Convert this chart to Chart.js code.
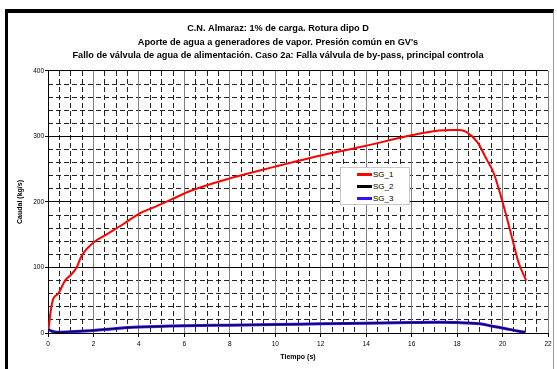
<!DOCTYPE html>
<html>
<head>
<meta charset="utf-8">
<script src="https://cdn.jsdelivr.net/npm/chart.js@4.4.1/dist/chart.umd.min.js"></script>
<style>
  body { margin:0; background:#fff; }
  #wrap { position:relative; width:557px; height:369px; overflow:hidden; }
  #frame { position:absolute; left:5px; top:9px; width:545px; height:400px;
           border-top:4px solid #000; border-left:3px solid #000; border-right:1px solid #999; }
  #legend { position:absolute; left:340px; top:167px; width:68px; height:36px;
            background:#fff; border:1px solid #c8c8c8; font:8px "Liberation Sans", Arial, sans-serif; }
  #legend div { position:absolute; left:16px; height:10px; line-height:10px; }
  #legend span { display:inline-block; width:15px; height:3px; vertical-align:middle; margin-right:1px; }
</style>
</head>
<body>
<div id="wrap">
  <canvas id="chart" width="557" height="369"></canvas>
  <div id="frame"></div>
  <div id="legend"></div>
</div>
<script>

// ------------------------------
// DATA
// ------------------------------

const titleLines = [
    "C.N. Almaraz: 1% de carga. Rotura dipo D",
    "Aporte de agua a generadores de vapor. Presión común en GV's",
    "Fallo de válvula de agua de alimentación. Caso 2a: Falla válvula de by-pass, principal controla"
]

const seriesNames = ["SG_1", "SG_2", "SG_3"]
const seriesColors = ["#ff0000", "#000000", "#3311ff"]

// SG_1 (red)
const tSG1 = [0.02, 0.1, 0.23, 0.45, 0.75, 1.04, 1.26, 1.48, 2.0, 2.6, 3.3, 4.0, 4.8, 5.5, 6.2,
              8, 10, 12, 13.9, 16, 17.2, 17.8, 18.1, 18.4, 18.9, 19.3, 19.6, 20.0, 20.45, 20.7, 21.04]
const SG1  = [3, 29, 52, 60, 80, 90, 100, 118, 138, 151, 166, 182, 194, 205, 216,
              236, 254, 271, 285, 302, 309, 310, 310, 307, 291, 265, 245, 200, 141, 108, 80]

// SG_2 (black) and SG_3 (blue) lie on top of each other
const tSG3 = [0, 0.4, 1, 2, 3, 4, 6, 8, 10, 12, 14, 16, 17.2, 18, 19, 19.6, 20.1, 20.5, 21]
const SG2  = [5, 1, 2, 4, 7, 9, 11, 12, 13, 14, 15, 16, 16.4, 16, 14, 10, 7, 4, 1]
const SG3  = [5, 1, 2, 4, 7, 9, 11, 12, 13, 14, 15, 16, 16.4, 16, 14, 10, 7, 4, 1]

const xTitle = "Tiempo (s)"
const yTitle = "Caudal (kg/s)"

// ------------------------------
// CHART
// ------------------------------

const FONT = "'Liberation Sans', Arial, sans-serif"

function pts(xs, ys){
    return xs.map((x, i) => ({x:x, y:ys[i]}))
}

const datasets = [
    {label:seriesNames[1], data:pts(tSG3, SG2), borderColor:seriesColors[1], borderWidth:1},
    {label:seriesNames[2], data:pts(tSG3, SG3), borderColor:seriesColors[2], borderWidth:3},
    {label:seriesNames[0], data:pts(tSG1, SG1), borderColor:seriesColors[0], borderWidth:2}
].map(d => Object.assign(d, {pointRadius:0, fill:false, cubicInterpolationMode:"monotone"}))

const minorGrid = {color:"#222", lineWidth:1, drawTicks:false}

new Chart(document.getElementById("chart"), {
    type:"line",
    data:{datasets:datasets},
    options:{
        responsive:false,
        animation:false,
        events:[],
        layout:{padding:{left:8, right:9, top:0, bottom:4}},
        plugins:{
            legend:{display:false},
            tooltip:{enabled:false},
            title:{
                display:true,
                text:titleLines,
                color:"#000",
                font:{family:FONT, size:9.2, weight:"bold", lineHeight:1.47},
                padding:{top:22, bottom:8.4}
            }
        },
        scales:{
            xm:{
                type:"linear", position:"bottom", min:0, max:22,
                ticks:{display:false, stepSize:0.5},
                grid:minorGrid,
                border:{display:false, dash:[5,3]}
            },
            ym:{
                type:"linear", position:"left", min:0, max:400,
                ticks:{display:false, stepSize:20},
                grid:minorGrid,
                border:{display:false, dash:[5,3]}
            },
            x:{
                type:"linear", position:"bottom", min:0, max:22,
                afterFit:s => { s.height = 32 },
                ticks:{stepSize:2, color:"#000", padding:3, maxRotation:0, font:{family:FONT, size:6.5}},
                grid:{color:"#808080", tickColor:"#000", tickLength:4},
                border:{color:"#000", width:1},
                title:{display:true, text:xTitle, color:"#000", padding:{top:0, bottom:4},
                       font:{family:FONT, size:7, weight:"bold"}}
            },
            y:{
                type:"linear", position:"left", min:0, max:400,
                afterFit:s => { s.width = 40 },
                ticks:{stepSize:100, color:"#000", padding:1, font:{family:FONT, size:6.5}},
                grid:{color:"#000", tickColor:"#000", tickLength:3},
                border:{color:"#000", width:1},
                title:{display:true, text:yTitle, color:"#000", padding:{top:8, bottom:0},
                       font:{family:FONT, size:7, weight:"bold"}}
            }
        }
    }
})

// ------------------------------
// LEGEND (inside plot area)
// ------------------------------

const legend = document.getElementById("legend")
seriesNames.forEach((name, i) => {
    const row = document.createElement("div")
    row.style.top = (2 + i*12) + "px"
    row.innerHTML = `<span style="background:${seriesColors[i]}"></span>${name}`
    legend.appendChild(row)
})

</script>
</body>
</html>
